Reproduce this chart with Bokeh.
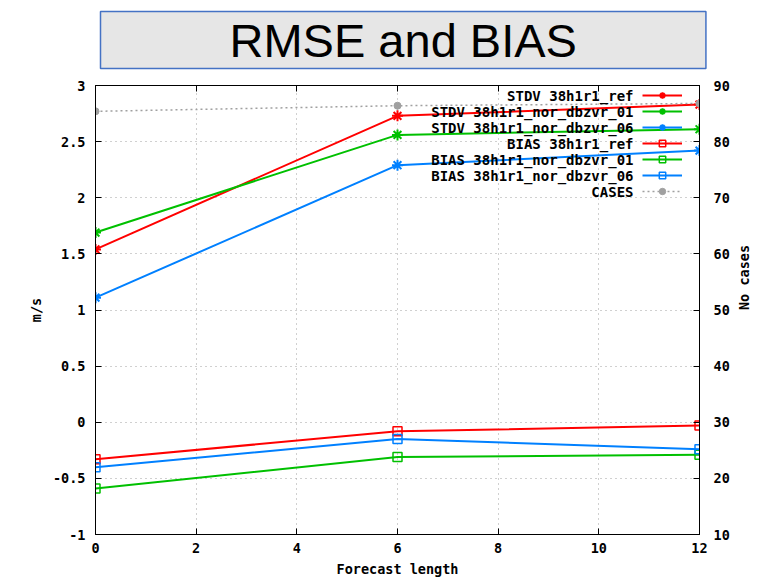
import math
from bokeh.plotting import figure
from bokeh.models import Range1d, LinearAxis, FixedTicker, Legend, LegendItem, Label, Title
from bokeh.embed import file_html
from bokeh.resources import INLINE

# ---- data ----
lead = [0, 6, 12]
stdv_ref = [1.54, 2.73, 2.83]
stdv_nor01 = [1.69, 2.56, 2.61]
stdv_nor06 = [1.11, 2.29, 2.42]
bias_ref = [-0.33, -0.08, -0.03]
bias_nor01 = [-0.59, -0.31, -0.29]
bias_nor06 = [-0.40, -0.15, -0.24]
cases = [85.4, 86.4, 86.8]

x_ticks = [0, 2, 4, 6, 8, 10, 12]
y_ticks = [-1, -0.5, 0, 0.5, 1, 1.5, 2, 2.5, 3]
y_tick_labels = ["-1", "-0.5", "0", "0.5", "1", "1.5", "2", "2.5", "3"]
y2_ticks = [10, 20, 30, 40, 50, 60, 70, 80, 90]

names = ["STDV 38h1r1_ref", "STDV 38h1r1_nor_dbzvr_01", "STDV 38h1r1_nor_dbzvr_06",
         "BIAS 38h1r1_ref", "BIAS 38h1r1_nor_dbzvr_01", "BIAS 38h1r1_nor_dbzvr_06", "CASES"]

RED, GREEN, BLUE, GRAY = "#ff0000", "#00c000", "#0080ff", "#a0a0a0"
FONT = "DejaVu Sans Mono"

p = figure(width=764, height=579, x_range=Range1d(0, 12), y_range=Range1d(-1, 3),
           output_backend="svg", toolbar_location=None,
           min_border_left=95, min_border_right=65, min_border_top=85, min_border_bottom=45,
           x_axis_label="Forecast length", y_axis_label="m/s")
p.extra_y_ranges = {"cases": Range1d(10, 90)}
p.background_fill_color = "white"
p.border_fill_color = "white"
p.outline_line_color = "black"
p.outline_line_width = 1

def style_axis(ax, labels=True):
    ax.axis_line_color = "black"
    ax.major_tick_in = 6
    ax.major_tick_out = 0
    ax.minor_tick_line_color = None
    ax.major_label_text_font = FONT
    ax.major_label_text_font_style = "bold"
    ax.major_label_text_font_size = "13.5px"
    ax.major_label_text_color = "black" if labels else None
    ax.axis_label_text_font = FONT
    ax.axis_label_text_font_style = "bold"
    ax.axis_label_text_font_size = "13.5px"
    ax.axis_label_text_color = "black"

xa = p.xaxis[0]
xa.ticker = FixedTicker(ticks=x_ticks)
style_axis(xa)
xa.major_label_standoff = 8
xa.axis_label_standoff = 5

ya = p.yaxis[0]
ya.ticker = FixedTicker(ticks=y_ticks)
ya.major_label_overrides = {float(t): l for t, l in zip(y_ticks, y_tick_labels)}
style_axis(ya)
ya.major_label_standoff = 10
ya.axis_label_standoff = 6

ra = LinearAxis(y_range_name="cases", ticker=FixedTicker(ticks=y2_ticks), axis_label="No cases")
style_axis(ra)
ra.major_label_standoff = 14
ra.axis_label_standoff = 11
ra.axis_label_orientation = math.pi / 2
p.add_layout(ra, "right")

# top mirror ticks (inward, no labels)
ta = LinearAxis(ticker=FixedTicker(ticks=x_ticks))
style_axis(ta, labels=False)
ta.major_label_standoff = 0
p.add_layout(ta, "above")

# invisible spacer axis that separates the title box from the frame
sp = LinearAxis(ticker=FixedTicker(ticks=x_ticks))
sp.axis_line_color = None
sp.major_tick_line_color = None
sp.minor_tick_line_color = None
sp.major_label_text_color = None
sp.major_tick_in = 0
sp.major_tick_out = 12
sp.major_label_standoff = 0
p.add_layout(sp, "above")

for g in (p.xgrid[0], p.ygrid[0]):
    g.grid_line_color = GRAY
    g.grid_line_dash = "1 4"
    g.grid_line_width = 1
p.xgrid[0].ticker = FixedTicker(ticks=x_ticks)
p.ygrid[0].ticker = FixedTicker(ticks=y_ticks)

items = []
stdv = [(stdv_ref, RED), (stdv_nor01, GREEN), (stdv_nor06, BLUE)]
for (vals, col) in stdv:
    l = p.line(lead, vals, line_color=col, line_width=2)
    s = p.scatter(lead, vals, marker="asterisk", size=11, line_color=col, line_width=2)
    items.append([l, s])
bias = [(bias_ref, RED), (bias_nor01, GREEN), (bias_nor06, BLUE)]
for (vals, col) in bias:
    l = p.line(lead, vals, line_color=col, line_width=2)
    s = p.scatter(lead, vals, marker="square", size=9, line_color=col, fill_alpha=0, line_width=1.5)
    items.append([l, s])
l = p.line(lead, cases, y_range_name="cases", line_color=GRAY, line_width=1.5, line_dash="2 3")
s = p.scatter(lead, cases, y_range_name="cases", marker="circle", size=7, line_color=GRAY, fill_color=GRAY)
items.append([l, s])

legend = Legend(items=[LegendItem(label=" ", renderers=r) for r in items],
                location=(547, 335), orientation="vertical",
                glyph_width=40, glyph_height=16, label_height=16, label_width=0,
                label_standoff=0, spacing=0, padding=0, margin=0,
                background_fill_alpha=0, border_line_alpha=0,
                label_text_font_size="1px")
p.add_layout(legend)

for i, nm in enumerate(names):
    p.add_layout(Label(x=538, y=439 - i * 16, x_units="screen", y_units="screen", text=nm,
                       text_align="right", text_baseline="middle", text_font=FONT,
                       text_font_style="bold", text_font_size="14px", text_color="black"))

p.title = Title(text="RMSE and BIAS", align="left", offset=5, text_font="Liberation Sans",
                text_font_size="47px", text_font_style="normal", text_color="black",
                background_fill_color="#e6e6e6", border_line_color="#4472c4", border_line_width=1.5,
                padding=dict(left=129, right=129, top=2, bottom=2), standoff=10)

open("out.html", "w").write(file_html(p, INLINE))
